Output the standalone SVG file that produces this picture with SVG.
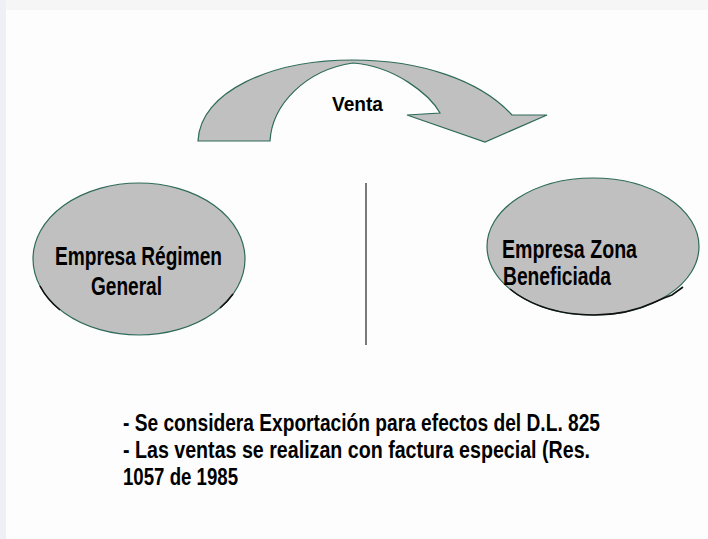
<svg xmlns="http://www.w3.org/2000/svg" width="708" height="539" viewBox="0 0 708 539">
<style>
.bg{fill:#fdfdfd}
.node{fill:#c0c0c0;stroke:#2e6b5a;stroke-width:1.2}
.shade{fill:none;stroke:#111;stroke-width:1.6}
.lbl{font-family:"Liberation Sans Narrow","Liberation Sans",Arial,sans-serif;font-weight:bold;fill:#000}
.div{stroke:#7a7a7a;stroke-width:2}
</style>
<rect class="bg" x="0" y="0" width="708" height="539"/>
<rect x="0" y="0" width="708" height="10" fill="#f6f6f6"/>
<rect x="0" y="0" width="6" height="539" fill="#edf0f5"/>
<g id="connectors">
  <g id="arrow-venta">
    <path class="node" d="M198,141 C200,92 270,60 353,60 C420,60 480,80 512,115 L547,115 L485,142 L407,115 L440,113 C430,95 395,66 353,63 C305,70 272,105 270,141 Z"/>
    <text class="lbl" x="332" y="111" font-size="21" textLength="51" lengthAdjust="spacingAndGlyphs">Venta</text>
  </g>
</g>
<g id="divider">
  <line class="div" x1="366" y1="183" x2="366" y2="345"/>
</g>
<g id="node-regimen-general">
  <ellipse class="node" cx="139" cy="259" rx="106" ry="76"/>
  <path class="shade" d="M40,286 A106,76 0 0 0 60,310"/>
  <path class="shade" d="M220,308 A106,76 0 0 0 233,294"/>
  <text class="lbl" x="55" y="265" font-size="25" textLength="167" lengthAdjust="spacingAndGlyphs">Empresa Régimen</text>
  <text class="lbl" x="91" y="295" font-size="25" textLength="71" lengthAdjust="spacingAndGlyphs">General</text>
</g>
<g id="node-zona-beneficiada">
  <ellipse class="node" cx="593" cy="246.5" rx="106" ry="68.5"/>
  <path class="shade" d="M510,289 A106,68.5 0 0 0 655,302 L664,298 L672,295 L683,287"/>
  <text class="lbl" x="502" y="258" font-size="25" textLength="135" lengthAdjust="spacingAndGlyphs">Empresa Zona</text>
  <text class="lbl" x="503" y="285" font-size="25" textLength="108" lengthAdjust="spacingAndGlyphs">Beneficiada</text>
</g>
<g id="note">
  <text class="lbl" x="123" y="431" font-size="23" textLength="477" lengthAdjust="spacingAndGlyphs">- Se considera Exportación para efectos del D.L. 825</text>
  <text class="lbl" x="123" y="458" font-size="23" textLength="467" lengthAdjust="spacingAndGlyphs">- Las ventas se realizan con factura especial (Res.</text>
  <text class="lbl" x="123" y="485" font-size="23" textLength="115" lengthAdjust="spacingAndGlyphs">1057 de 1985</text>
</g>
</svg>
